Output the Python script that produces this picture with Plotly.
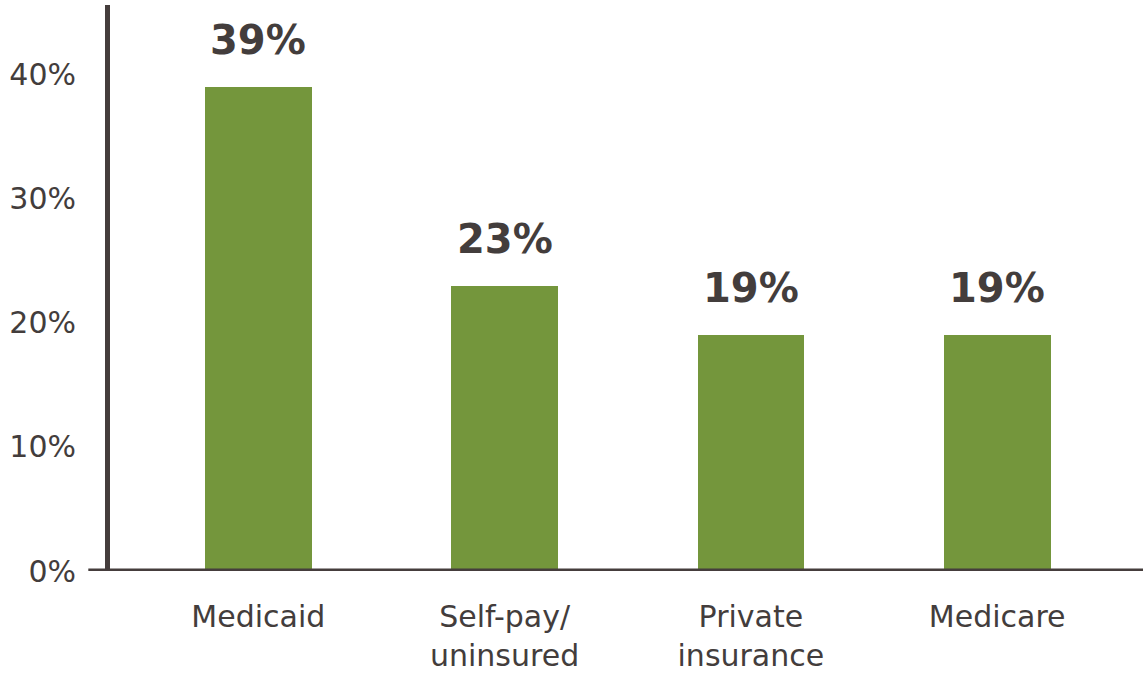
import plotly.graph_objects as go

# Share of visits by payer
categories = ["Medicaid", "Self-pay/<br>uninsured", "Private<br>insurance", "Medicare"]
shares = [39, 23, 19, 19]
value_labels = ["39%", "23%", "19%", "19%"]
y_tickvals = [0, 10, 20, 30, 40]
y_ticktext = ["0%", "10%", "20%", "30%", "40%"]

BAR_COLOR = "#74963c"
INK = "#433d3c"
AXIS = "#453d3c"
FONT = "DejaVu Sans"

positions = list(range(len(categories)))

fig = go.Figure()
fig.add_trace(go.Bar(
    x=positions,
    y=shares,
    width=0.433,
    marker=dict(color=BAR_COLOR, line=dict(width=0)),
    hoverinfo="skip",
    showlegend=False,
))

# value labels above each bar
for xp, v, t in zip(positions, shares, value_labels):
    fig.add_annotation(
        x=xp, y=v, text=t, showarrow=False,
        xref="x", yref="y", yanchor="middle", yshift=47,
        font=dict(family=FONT, size=40, color=INK, weight="bold"),
    )

# baseline that runs slightly past the y axis on the left
fig.add_shape(
    type="line", xref="paper", yref="y",
    x0=-0.021, x1=1.0, y0=0, y1=0,
    line=dict(color=AXIS, width=5), layer="above",
)

fig.update_layout(
    template="none",
    width=1147, height=674,
    margin=dict(l=110, r=4, t=5, b=103, autoexpand=False),
    paper_bgcolor="white", plot_bgcolor="white",
    font=dict(family=FONT, color=INK),
    bargap=0,
    xaxis=dict(
        tickmode="array", tickvals=positions, ticktext=categories,
        range=[-0.602, 3.592], automargin=False,
        showgrid=False, zeroline=False, showline=False,
        ticks="", ticklabelstandoff=25,
        tickfont=dict(family=FONT, size=30, color=INK),
    ),
    yaxis=dict(
        range=[0, 45.6], automargin=False,
        tickmode="array", tickvals=y_tickvals, ticktext=y_ticktext,
        showgrid=False, zeroline=False,
        showline=True, linecolor=AXIS, linewidth=5,
        ticks="", ticklabelstandoff=23,
        tickfont=dict(family=FONT, size=30, color=INK),
    ),
)

fig.write_html("out.html")
